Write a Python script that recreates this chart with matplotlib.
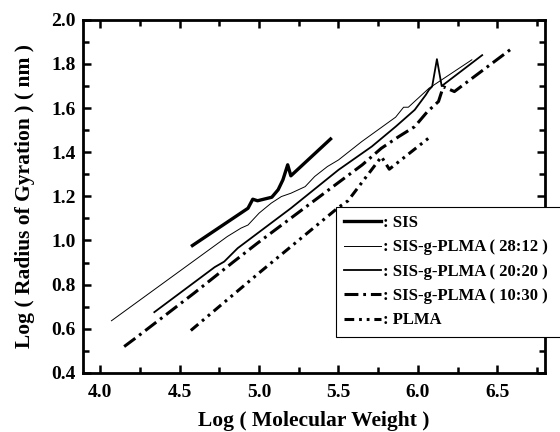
import matplotlib
matplotlib.use("Agg")
import matplotlib.pyplot as plt
from matplotlib.ticker import MultipleLocator

plt.rcParams['font.family'] = ['Liberation Serif', 'DejaVu Serif']
plt.rcParams['font.weight'] = 'bold'
plt.rcParams['lines.scale_dashes'] = False

# Data
sis_x = [4.58, 4.93, 4.96, 4.99, 5.08, 5.12, 5.15, 5.18, 5.20, 5.45]
sis_y = [0.977, 1.146, 1.187, 1.18, 1.196, 1.23, 1.275, 1.343, 1.293, 1.46]

g2812_x = [4.07, 4.80, 4.886, 4.93, 5.00, 5.076, 5.14, 5.20, 5.29, 5.35, 5.43, 5.50,
           5.646, 5.86, 5.91, 5.94, 6.07, 6.34]
g2812_y = [0.636, 1.018, 1.056, 1.07, 1.124, 1.169, 1.199, 1.214, 1.244, 1.29, 1.335, 1.365,
           1.448, 1.559, 1.604, 1.604, 1.69, 1.819]

g2020_x = [4.34, 4.72, 4.78, 4.865, 5.20, 5.50, 5.71, 5.86, 5.98, 6.05, 6.07, 6.09,
           6.12, 6.15, 6.405]
g2020_y = [0.675, 0.879, 0.904, 0.965, 1.146, 1.32, 1.426, 1.516, 1.592, 1.66, 1.683, 1.698,
           1.822, 1.70, 1.84]

g1030_x = [4.15, 4.23, 4.59, 4.84, 4.99, 5.48, 5.65, 5.77, 5.88, 5.98, 6.06, 6.13,
           6.16, 6.23, 6.595]
g1030_y = [0.519, 0.562, 0.761, 0.904, 0.988, 1.252, 1.343, 1.418, 1.471, 1.516, 1.584, 1.63,
           1.697, 1.675, 1.872]

plma_x = [4.57, 5.01, 5.50, 5.56, 5.75, 5.77, 5.82, 6.08]
plma_y = [0.592, 0.859, 1.15, 1.18, 1.36, 1.38, 1.323, 1.471]

xticks = [4.0, 4.5, 5.0, 5.5, 6.0, 6.5]
yticks = [0.4, 0.6, 0.8, 1.0, 1.2, 1.4, 1.6, 1.8, 2.0]

labels = [': SIS', ': SIS-g-PLMA ( 28:12 )', ': SIS-g-PLMA ( 20:20 )',
          ': SIS-g-PLMA ( 10:30 )', ': PLMA']

fig = plt.figure(figsize=(5.6, 4.32), dpi=100)
ax = fig.add_axes([0.148, 0.137, 0.825, 0.817])

ax.plot(sis_x, sis_y, color='black', lw=2.4, label=labels[0])
ax.plot(g2812_x, g2812_y, color='black', lw=0.7, label=labels[1])
ax.plot(g2020_x, g2020_y, color='black', lw=1.3, label=labels[2])
ax.plot(g1030_x, g1030_y, color='black', lw=2.2, linestyle=(0, (10, 3.5, 2, 3.5)), label=labels[3])
ax.plot(plma_x, plma_y, color='black', lw=2.2, linestyle=(0, (7, 3.5, 2, 3.5, 2, 3.5)), label=labels[4])

ax.set_xlim(3.89, 6.8)
ax.set_ylim(0.4, 2.0)
ax.xaxis.set_minor_locator(MultipleLocator(0.25))
ax.yaxis.set_minor_locator(MultipleLocator(0.1))
ax.set_xticks(xticks)
ax.set_xticklabels([f'{v:.1f}' for v in xticks])
ax.set_yticks(yticks)
ax.set_yticklabels([f'{v:.1f}' for v in yticks])

for s in ax.spines.values():
    s.set_linewidth(2.0)
ax.tick_params(which='both', direction='in', top=True, right=True, width=1.8,
               labelsize=14, pad=5)
ax.tick_params(axis='x', which='both', pad=8)
ax.tick_params(which='major', length=6)
ax.tick_params(which='minor', length=4)
for t in ax.get_xticklabels() + ax.get_yticklabels():
    t.set_fontweight('bold')

ax.set_xlabel('Log ( Molecular Weight )', fontsize=15.5, fontweight='bold', labelpad=7)
ax.set_ylabel('Log ( Radius of Gyration ) ( nm )', fontsize=15.5, fontweight='bold', labelpad=12)

leg = ax.legend(loc='upper left', bbox_to_anchor=(336 / 560, 1 - 211 / 432, 240 / 560, 0.01),
                bbox_transform=fig.transFigure, mode='expand',
                prop={'weight': 'bold', 'size': 12}, handlelength=2.2, handletextpad=0.1,
                borderpad=0.5, borderaxespad=0, labelspacing=0.5, fancybox=False,
                framealpha=1, edgecolor='black')
leg.get_frame().set_linewidth(0.8)
leg.set_zorder(10)

fig.savefig('out.png', dpi=100)
